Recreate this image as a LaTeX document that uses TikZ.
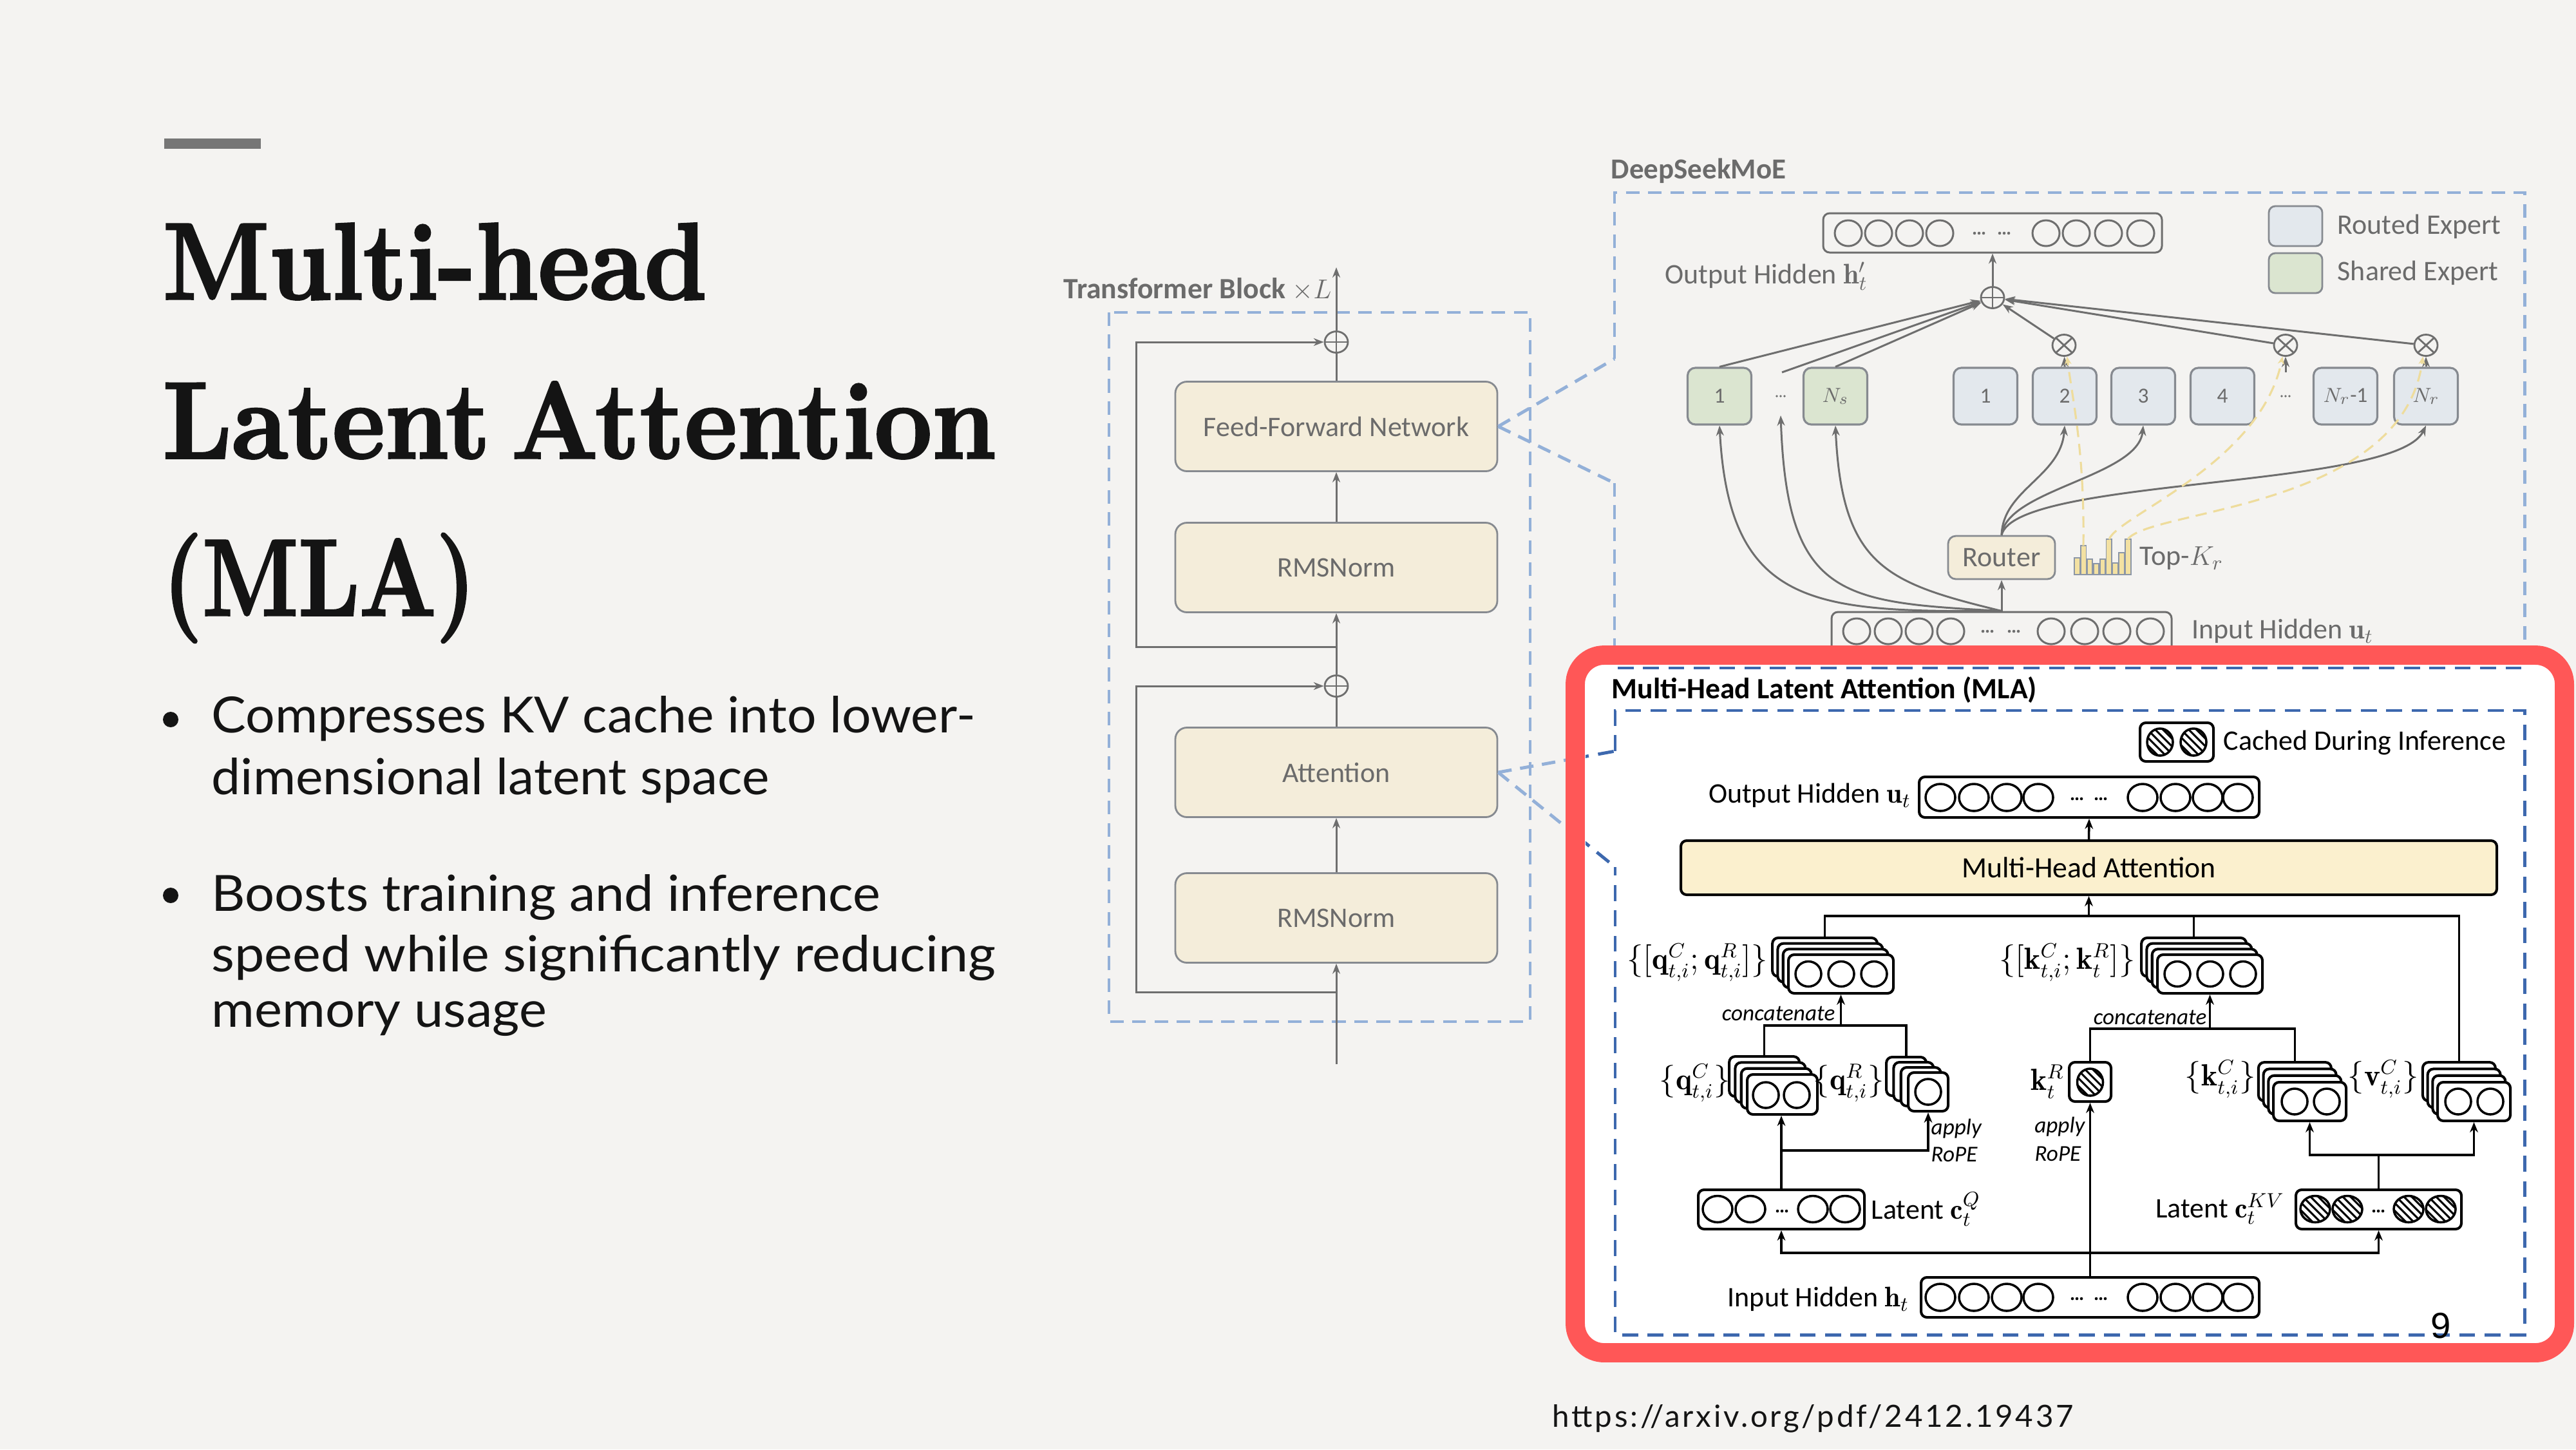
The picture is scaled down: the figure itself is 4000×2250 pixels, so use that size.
\documentclass[tikz,border=0pt]{standalone}
\usepackage{fontspec}
\usepackage{graphicx}
\usetikzlibrary{arrows.meta,shapes.geometric,calc}
\newfontfamily\dgm{Carlito}
\newfontfamily\bul{Lato}
\newfontfamily\urlf{Lato}[LetterSpace=8]
\newfontfamily\pgn{Liberation Sans}
\newfontfamily\ttl{Latin Modern Roman}[BoldFeatures={FakeBold=2.2}, WordSpace=0.55]
\newcommand\setfs[1]{\fontsize{#1}{#1}\selectfont}
\newcommand\upx{0.01cm}
\definecolor{bg}{HTML}{F4F3F1}
\definecolor{tbar}{HTML}{767676}
\definecolor{ink}{HTML}{141414}
\definecolor{fline}{HTML}{6E6E6E}
\definecolor{fborder}{HTML}{868A90}
\definecolor{ftext}{HTML}{6B6B6B}
\definecolor{beige}{HTML}{F4EDDA}
\definecolor{rexpc}{HTML}{E3E8ED}
\definecolor{sexpc}{HTML}{DBE5D0}
\definecolor{lblue}{HTML}{93B0D8}
\definecolor{dblue}{HTML}{3D68AE}
\definecolor{ylw}{HTML}{EEDC9C}
\definecolor{barfill}{HTML}{F3E1A2}
\definecolor{barline}{HTML}{8C96A6}
\definecolor{mhay}{HTML}{FBF0CE}
\definecolor{redb}{HTML}{FF5757}
% hatched ellipse
\newcommand\hatche[4]{%
 \begin{scope}
  \clip (#1,#2) ellipse [x radius=#3*\upx, y radius=#4*\upx];
  \foreach \d in {-48,-36,...,48} {\draw[line width=0.85pt] (#1+\d-30,#2-30) -- (#1+\d+30,#2+30);}
 \end{scope}
 \draw[line width=1pt] (#1,#2) ellipse [x radius=#3*\upx, y radius=#4*\upx];}
\newcommand\tdots[3]{\foreach \e in {-7,0,7} {\fill[#3] (#1+\e,#2) circle[radius=2.3*\upx];}}
\newcommand\sdots[3]{\foreach \e in {-6,0,6} {\fill[#3] (#1+\e,#2) circle[radius=1.9*\upx];}}
% stack of 4 layers: name, cx, cy, w, h, dx, dy
\newcommand\stacknode[7]{%
 \foreach \k in {3,2,1} {\node[mbox,minimum width=#4*\upx,minimum height=#5*\upx] (#1-\k) at (#2-\k*#6,#3-\k*#7) {};}
 \node[mbox,minimum width=#4*\upx,minimum height=#5*\upx] (#1) at (#2,#3) {};}
\begin{document}
\begin{tikzpicture}[x=0.01cm,y=-0.01cm,
 fl/.style={draw=fline, line width=0.85pt},
 fa/.style={fl, -{Stealth[length=4.5pt,width=3.4pt]}},
 fdash/.style={draw=lblue, line width=1.4pt, dash pattern=on 6pt off 3.8pt},
 ddash/.style={draw=dblue, line width=1.4pt, dash pattern=on 7pt off 4.2pt},
 tbox/.style={draw=fborder, fill=beige, line width=0.8pt, rounded corners=0.18cm, minimum width=500*\upx, minimum height=139*\upx, font=\dgm\setfs{12.5}, text=ftext, inner sep=0},
 ftxt/.style={font=\dgm\setfs{12.5}, text=ftext, inner sep=0},
 opbase/.style={ellipse, draw=fline, line width=0.8pt, minimum width=36*\upx, minimum height=33*\upx, inner sep=0, fill=bg},
 oplus/.style={opbase, path picture={\draw[fline, line width=0.8pt] (path picture bounding box.north) -- (path picture bounding box.south) (path picture bounding box.west) -- (path picture bounding box.east);}},
 otimes/.style={opbase, path picture={\draw[fline, line width=0.8pt] (path picture bounding box.north west) -- (path picture bounding box.south east) (path picture bounding box.north east) -- (path picture bounding box.south west);}},
 expb/.style={draw=fborder, line width=0.9pt, rounded corners=0.12cm, minimum width=99*\upx, minimum height=88*\upx, inner sep=0, font=\dgm\setfs{9.5}, text=ftext},
 rexp/.style={expb, fill=rexpc},
 sexp/.style={expb, fill=sexpc},
 fvec/.style={draw=fline, line width=0.85pt, rounded corners=0.1cm, inner sep=0},
 fcirc/.style={draw=fline, line width=0.85pt},
 ydash/.style={draw=ylw, line width=0.9pt, dash pattern=on 5pt off 3pt, -{Stealth[length=3.5pt,width=3pt]}},
 ml/.style={draw=black, line width=1pt},
 ma/.style={ml, -{Stealth[length=4.5pt,width=3.6pt]}},
 mbox/.style={draw=black, line width=1.15pt, fill=white, rounded corners=0.09cm, inner sep=0},
 mtxt/.style={font=\dgm\setfs{12.5}, text=black, inner sep=0},
 mmath/.style={font=\setfs{13.5}, text=black, inner sep=0},
 mit/.style={font=\dgm\itshape\setfs{10}, text=black, inner sep=0},
 ttlf/.style={anchor=base west, inner sep=0, font=\ttl\bfseries\setfs{48}, text=ink},
 bulf/.style={anchor=base west, inner sep=0, font=\bul\setfs{22}, text=ink},
]
\useasboundingbox (0,0) rectangle (4000,2250);
\fill[bg] (0,0) rectangle (4000,2250);

% ---------- left text ----------
\fill[tbar] (255,215) rectangle (405,231);
\node[ttlf] (t1) at (252,464) {\scalebox{0.92}[1]{Multi-head}};
\node[ttlf] (t2) at (252,711) {\scalebox{0.94}[1]{Latent Attention}};
\node[ttlf] (t3) at (252,955) {\scalebox{0.83}[1]{(MLA)}};
\fill[ink] (265,1117) circle[radius=12*\upx];
\fill[ink] (265,1390) circle[radius=12*\upx];
\node[bulf] (b1a) at (328,1137) {\scalebox{1.04}[1]{Compresses KV cache into lower-}};
\node[bulf] (b1b) at (328,1233) {\scalebox{1.04}[1]{dimensional latent space}};
\node[bulf] (b2a) at (328,1414) {\scalebox{1.05}[1]{Boosts training and inference}};
\node[bulf] (b2b) at (328,1508) {\scalebox{1.07}[1]{speed while significantly reducing}};
\node[bulf] (b2c) at (328,1594) {\scalebox{1.05}[1]{memory usage}};
\node[anchor=base west, inner sep=0, font=\urlf\setfs{13.5}, text=ink] (url) at (2410,2215) {https://arxiv.org/pdf/2412.19437};

% ---------- transformer block ----------
\draw[fdash] (1722,485) rectangle (2376,1586);
\node[anchor=west, font=\dgm\bfseries\setfs{13}, text=ftext, inner sep=0] (tbl) at (1651,449) {Transformer Block $\times L$};
\node[tbox] (ffn) at (2075,662) {Feed-Forward Network};
\node[tbox] (rms1) at (2075,881) {RMSNorm};
\node[tbox] (attn) at (2075,1199) {Attention};
\node[tbox] (rms2) at (2075,1425) {RMSNorm};
\node[oplus] (p1) at (2075,531) {};
\node[oplus] (p2) at (2075,1065) {};
\coordinate (tin) at (2075,1652);
\coordinate (tout) at (2075,415);
\coordinate (r2) at (2075,1540);
\coordinate (r1) at (2075,1004);
\draw[fa] (tin) -- (rms2);
\draw[fa] (rms2) -- (attn);
\draw[fl] (attn) -- (p2);
\draw[fa] (p2) -- (rms1);
\draw[fa] (rms1) -- (ffn);
\draw[fl] (ffn) -- (p1);
\draw[fa] (p1) -- (tout);
\draw[fa] (r2) -- ++(-311,0) |- (p2.west);
\draw[fa] (r1) -- ++(-311,0) |- (p1.west);

% zoom lines
\coordinate (mgt) at (2507,557);
\coordinate (mgb) at (2507,750);
\coordinate (lgt) at (2508,1166);
\coordinate (lgb) at (2508,1346);
\draw[fdash] (ffn.east) -- (mgt);
\draw[fdash] (ffn.east) -- (mgb);
\draw[fdash] (attn.east) -- (lgt);
\draw[fdash] (attn.east) -- (lgb);

% ---------- DeepSeekMoE ----------
\node[anchor=west, font=\dgm\bfseries\setfs{12.8}, text=ftext, inner sep=0] (moel) at (2501,265) {DeepSeekMoE};
\draw[fdash] (mgt) -- (2507,299) -- (3920,299) -- (3920,1037);
\draw[fdash] (mgb) -- (2507,1037);
\node[fvec, minimum width=526*\upx, minimum height=61*\upx] (mout) at (3094,361.5) {};
\foreach \x in {2870,2917,2965,3012,3177,3224,3274,3324} {\draw[fcirc] (\x,362) ellipse [x radius=21*\upx, y radius=20*\upx];}
\tdots{3073}{362}{fline}\tdots{3112}{362}{fline}
\node[ftxt, anchor=west] (moutl) at (2585,429) {Output Hidden $\mathbf{h}'_t$};
\node[draw=fborder, fill=rexpc, line width=0.8pt, rounded corners=0.1cm, minimum width=83*\upx, minimum height=62*\upx, inner sep=0] (lr) at (3564.5,351) {};
\node[draw=fborder, fill=sexpc, line width=0.8pt, rounded corners=0.1cm, minimum width=83*\upx, minimum height=62*\upx, inner sep=0] (ls) at (3564.5,424) {};
\node[ftxt, anchor=west] (lrt) at (3629,352) {Routed Expert};
\node[ftxt, anchor=west] (lst) at (3629,424) {Shared Expert};
\node[oplus] (mplus) at (3094,462) {};
\node[otimes] (x1) at (3205,536) {};
\node[otimes] (x2) at (3549,536) {};
\node[otimes] (x3) at (3767,536) {};
\node[sexp] (s1) at (2670,615) {1};
\node[sexp] (sns) at (2850,615) {$N_s$};
\node[rexp] (e1) at (3083,615) {1};
\node[rexp] (e2) at (3206,615) {2};
\node[rexp] (e3) at (3328,615) {3};
\node[rexp] (e4) at (3451,615) {4};
\node[rexp] (enr1) at (3642,615) {$N_r$-1};
\node[rexp] (enr) at (3767,615) {$N_r$};
\sdots{2765}{615}{fline}
\sdots{3549}{615}{fline}
\coordinate (sdt) at (2767,578);
\coordinate (sdb) at (2765,645);
\coordinate (rdt) at (3549,578);
\draw[fa] (s1.north) -- (mplus);
\draw[fa] (sdt) -- (mplus);
\draw[fa] (sns.north) -- (mplus);
\draw[fa] (x1) -- (mplus);
\draw[fa] (x2) -- (mplus);
\draw[fa] (x3) -- (mplus);
\draw[fa] (e2.north) -- (x1);
\draw[fa] (rdt) -- (x2);
\draw[fa] (enr.north) -- (x3);
\draw[fa] (mplus) -- (mout);
\node[draw=fborder, fill=beige, line width=0.8pt, rounded corners=0.12cm, minimum width=166*\upx, minimum height=67*\upx, inner sep=0, font=\dgm\setfs{12.5}, text=ftext] (router) at (3108,865.5) {Router};
\node[fvec, minimum width=528*\upx, minimum height=62*\upx] (min) at (3108,981) {};
\foreach \x in {2883,2932,2980,3029,3185,3237,3287,3339} {\draw[fcirc] (\x,980) ellipse [x radius=21*\upx, y radius=20*\upx];}
\tdots{3086}{980}{fline}\tdots{3127}{980}{fline}
\node[ftxt, anchor=west] (minl) at (3403,980) {Input Hidden $\mathbf{u}_t$};
\draw[fa] (min.north) -- (router);
\draw[fa] (min.north) .. controls (2820,950) and (2685,945) .. (s1.south);
\draw[fa] (min.north) .. controls (2860,935) and (2775,930) .. (sdb);
\draw[fa] (min.north) .. controls (2930,905) and (2860,880) .. (sns.south);
\draw[fa] (router.north) .. controls (3110,760) and (3200,740) .. (e2.south);
\draw[fa] (router.north) .. controls (3115,760) and (3320,740) .. (e3.south);
\draw[fa] (router.north) .. controls (3130,740) and (3720,760) .. (enr.south);
\foreach \i/\t in {0/866,1/847,2/868,3/875,4/868,5/837,6/874,7/858,8/837} {\draw[draw=barline, fill=barfill, line width=0.5pt] (3221+\i*9.9,892) rectangle (3229.5+\i*9.9,\t);}
\coordinate (b2) at (3235,847);
\coordinate (b6) at (3275,837);
\coordinate (b9) at (3304,837);
\draw[ydash] (b2) .. controls (3237,700) and (3218,620) .. (x1.-75);
\draw[ydash] (b6) .. controls (3290,800) and (3510,720) .. (x2.-105);
\draw[ydash] (b9) .. controls (3340,790) and (3730,790) .. (x3.-105);
\node[ftxt, anchor=west] (topk) at (3322,867) {Top-$K_r$};

% ---------- MLA panel ----------
\fill[white, rounded corners=0.45cm] (2446,1017) rectangle (3982,2100);
\draw[ddash] (2512,1037) -- (3920,1037);
\begin{scope}
 \clip (2462,1031) rectangle (3965,2086);
 \draw[ddash] (attn.east) -- (lgt);
 \draw[ddash] (attn.east) -- (lgb);
\end{scope}
\draw[ddash] (lgt) -- (2508,1103) -- (3920,1103) -- (3920,2072) -- (2508,2072) -- (lgb);
\node[anchor=west, font=\dgm\bfseries\setfs{13}, text=black, inner sep=0] (mlat) at (2502,1071) {Multi-Head Latent Attention (MLA)};
\node[mbox, minimum width=114*\upx, minimum height=60*\upx] (cache) at (3380,1152) {};
\hatche{3354}{1152}{20}{21}\hatche{3406}{1152}{20}{21}
\node[mtxt, anchor=west] (cachet) at (3452,1153) {Cached During Inference};
% output hidden
\node[mbox, minimum width=528*\upx, minimum height=63*\upx] (uout) at (3244,1237.5) {};
\foreach \x in {3013,3065,3116,3165,3327,3378,3428,3475} {\draw[ml] (\x,1238) ellipse [x radius=23*\upx, y radius=21*\upx];}
\tdots{3225}{1240}{black}\tdots{3262}{1240}{black}
\node[mtxt, anchor=east] (uoutl) at (2968,1235) {Output Hidden $\mathbf{u}_t$};
\node[mbox, fill=mhay, minimum width=1267*\upx, minimum height=84*\upx, font=\dgm\setfs{13}] (mha) at (3243.5,1347) {Multi-Head Attention};
\draw[ma] (mha.north) -- (uout.south);
% stacks
\stacknode{qcat}{2858.5}{1512}{163}{60}{8.3}{8.7}
\foreach \x in {2808,2859,2910} {\draw[ml] (\x,1512) ellipse [x radius=20*\upx, y radius=19.5*\upx];}
\stacknode{kcat}{3431.5}{1512}{163}{60}{8.3}{8.7}
\foreach \x in {3381,3432,3483} {\draw[ml] (\x,1512) ellipse [x radius=20*\upx, y radius=19.5*\upx];}
\stacknode{qC}{2767.5}{1699}{109}{62}{9.3}{9.3}
\foreach \x in {2742,2790} {\draw[ml] (\x,1700) ellipse [x radius=20*\upx, y radius=20*\upx];}
\stacknode{qR}{2994}{1695}{62}{60}{11.3}{8}
\draw[ml] (2994,1695) ellipse [x radius=20*\upx, y radius=20*\upx];
\stacknode{kC}{3586.5}{1710}{113}{60}{7.7}{10.3}
\foreach \x in {3563,3613} {\draw[ml] (\x,1710) ellipse [x radius=20*\upx, y radius=20*\upx];}
\stacknode{vC}{3841.5}{1710}{113}{60}{7.7}{10.3}
\foreach \x in {3817,3867} {\draw[ml] (\x,1710) ellipse [x radius=20*\upx, y radius=20*\upx];}
\node[mbox, minimum width=65*\upx, minimum height=61*\upx] (kR) at (3245.5,1679.5) {};
\hatche{3245.5}{1680}{20}{21}
% labels
\node[mmath, anchor=east] (lqcat) at (2745,1494) {$\{[\mathbf{q}^C_{t,i};\mathbf{q}^R_{t,i}]\}$};
\node[mmath, anchor=east] (lkcat) at (3316,1494) {$\{[\mathbf{k}^C_{t,i};\mathbf{k}^R_{t}]\}$};
\node[mmath, anchor=east] (lqC) at (2687,1681) {$\{\mathbf{q}^C_{t,i}\}$};
\node[mmath, anchor=east] (lqR) at (2926,1681) {$\{\mathbf{q}^R_{t,i}\}$};
\node[mmath, anchor=east] (lkR) at (3206,1679) {$\mathbf{k}^R_t$};
\node[mmath, anchor=east] (lkC) at (3503,1675) {$\{\mathbf{k}^C_{t,i}\}$};
\node[mmath, anchor=east] (lvC) at (3756,1675) {$\{\mathbf{v}^C_{t,i}\}$};
\node[mit, anchor=east] (cc1) at (2850,1573) {concatenate};
\node[mit, anchor=east] (cc2) at (3427,1579) {concatenate};
\node[mit, anchor=west] (ap1) at (2998,1752) {apply};
\node[mit, anchor=west] (ro1) at (2998,1792) {RoPE};
\node[mit, anchor=east] (ap2) at (3238,1749) {apply};
\node[mit, anchor=east] (ro2) at (3232,1791) {RoPE};
% latent
\node[mbox, minimum width=258*\upx, minimum height=61*\upx] (cq) at (2766,1877.5) {};
\foreach \x in {2667,2718,2815,2865} {\draw[ml] (\x,1877) ellipse [x radius=23*\upx, y radius=20.5*\upx];}
\tdots{2767}{1880}{black}
\node[mtxt, anchor=west] (lcq) at (2905,1877) {Latent $\mathbf{c}^Q_t$};
\node[mbox, minimum width=257*\upx, minimum height=61*\upx] (ckv) at (3693.5,1877.5) {};
\hatche{3595}{1877}{23}{20.5}\hatche{3645}{1877}{23}{20.5}\hatche{3740}{1877}{23}{20.5}\hatche{3790}{1877}{23}{20.5}
\tdots{3693}{1880}{black}
\node[mtxt, anchor=east] (lckv) at (3548,1877) {Latent $\mathbf{c}^{KV}_t$};
% input hidden
\node[mbox, minimum width=525*\upx, minimum height=62*\upx] (hin) at (3245.5,2014) {};
\foreach \x in {3013,3065,3116,3165,3327,3378,3428,3475} {\draw[ml] (\x,2014) ellipse [x radius=23*\upx, y radius=21*\upx];}
\tdots{3225}{2016}{black}\tdots{3262}{2016}{black}
\node[mtxt, anchor=east] (hinl) at (2965,2017) {Input Hidden $\mathbf{h}_t$};
% MLA connectors
\coordinate (hbus) at (3243.5,1422);
\coordinate (qbus) at (2858.5,1592);
\coordinate (kbus) at (3431.5,1597);
\coordinate (qb) at (2766,1786);
\coordinate (kvb) at (3693.5,1793);
\coordinate (ibus) at (3245.5,1945);
\draw[ma] (hbus) -- (mha.south);
\draw[ml] (qcat-3.north) |- (hbus) -| (vC-3.north);
\draw[ml] (kcat-3.north) -- (kcat-3.north |- hbus);
\draw[ml] (qC-3.north) |- (qbus) -| (qR-3.north);
\draw[ma] (qbus) -- (qcat.south);
\draw[ml] (kR.north) |- (kbus) -| (kC-3.north);
\draw[ma] (kbus) -- (kcat.south);
\draw[ma] (cq.north) -- (cq.north |- qC.south);
\draw[ma] (qb) -| (qR.south);
\draw[ml] (ckv.north) -- (kvb);
\draw[ma] (kvb) -| (kC.south);
\draw[ma] (kvb) -| (vC.south);
\draw[ma] (ibus) -| (cq.south);
\draw[ma] (ibus) -| (ckv.south);
\draw[ma] (hin.north) -- (kR.south);
\node[font=\pgn\setfs{16}, text=black, inner sep=0] (pg) at (3790,2058) {9};
% red frame
\draw[redb, line width=8.5pt, rounded corners=0.45cm] (2446,1017) rectangle (3982,2100);
\end{tikzpicture}
\end{document}
